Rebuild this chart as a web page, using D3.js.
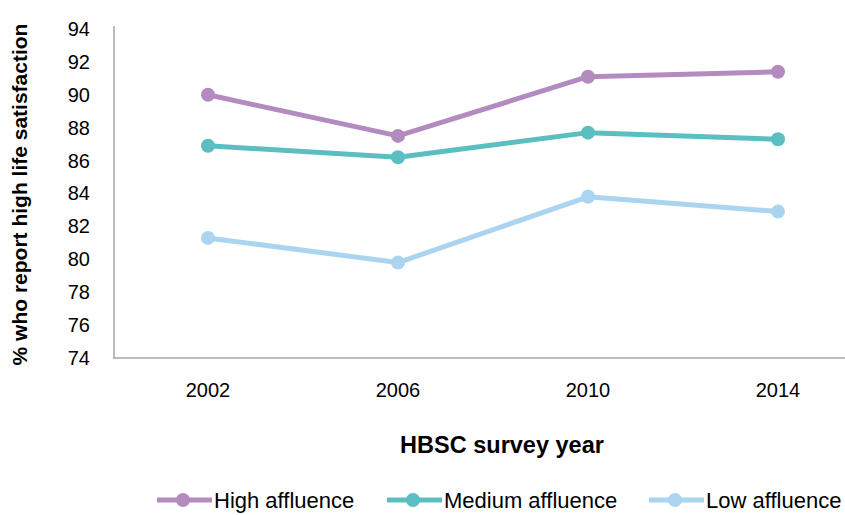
<!DOCTYPE html>
<html>
<head>
<meta charset="utf-8">
<script src="https://cdn.jsdelivr.net/npm/d3@7"></script>
<style>
	body { margin: 0; background: #fff; }
	text { font-family: "Liberation Sans", Arial, sans-serif; fill: #000; }
</style>
</head>
<body>
<svg id="chart"></svg>
<script>
// chart data
const years = ["2002", "2006", "2010", "2014"];
const highAffluence = [90.0, 87.5, 91.1, 91.4];
const mediumAffluence = [86.9, 86.2, 87.7, 87.3];
const lowAffluence = [81.3, 79.8, 83.8, 82.9];
const yTicks = [74, 76, 78, 80, 82, 84, 86, 88, 90, 92, 94];

const series = [
	{name: "High affluence", values: highAffluence, color: "#b48bbf"},
	{name: "Medium affluence", values: mediumAffluence, color: "#5bbfc1"},
	{name: "Low affluence", values: lowAffluence, color: "#aad4f0"}
];

const WIDTH = 845, HEIGHT = 515;
const MARGIN = {top: 29, left: 113, bottom: 157};

const svg = d3.select("#chart").attr("width", WIDTH).attr("height", HEIGHT);

const xScale = d3.scaleBand().domain(years).range([MARGIN.left, MARGIN.left + 760]);
const yScale = d3.scaleLinear().domain([74, 94]).range([HEIGHT - MARGIN.bottom, MARGIN.top]);

// Axis lines (no ticks)
svg.append("line")
	.attr("x1", MARGIN.left + 1).attr("x2", MARGIN.left + 1)
	.attr("y1", yScale(94) - 3).attr("y2", yScale(74))
	.attr("stroke", "#a6a6a6").attr("stroke-width", 1.5);
svg.append("line")
	.attr("x1", MARGIN.left).attr("x2", WIDTH)
	.attr("y1", yScale(74)).attr("y2", yScale(74))
	.attr("stroke", "#a6a6a6").attr("stroke-width", 1.5);

// Y tick labels
const yAxis = svg.append("g")
	.attr("transform", `translate(${MARGIN.left}, 0)`)
	.call(d3.axisLeft(yScale).tickValues(yTicks).tickSize(0).tickPadding(23));
yAxis.select(".domain").remove();
yAxis.selectAll("text")
	.style("font-size", "20px")
	.attr("fill", "#000");

// X tick labels
const xAxis = svg.append("g")
	.attr("transform", `translate(0, ${yScale(74)})`)
	.call(d3.axisBottom(xScale).tickSize(0).tickPadding(25));
xAxis.select(".domain").remove();
xAxis.selectAll("text")
	.style("font-size", "20px")
	.attr("fill", "#000");

// Axis titles
svg.append("text")
	.attr("transform", `translate(27, ${(yScale(94) + yScale(74)) / 2 + 1}) rotate(-90)`)
	.attr("text-anchor", "middle")
	.style("font-size", "21px")
	.style("font-weight", "bold")
	.text("% who report high life satisfaction");

svg.append("text")
	.attr("x", 502)
	.attr("y", 453)
	.attr("text-anchor", "middle")
	.style("font-size", "23.5px")
	.style("font-weight", "bold")
	.text("HBSC survey year");

// Lines and points
const line = d3.line()
	.x((d, i) => xScale(years[i]) + xScale.bandwidth() / 2)
	.y(d => yScale(d));

series.forEach(s => {
	svg.append("path")
		.datum(s.values)
		.attr("fill", "none")
		.attr("stroke", s.color)
		.attr("stroke-width", 5)
		.attr("stroke-linejoin", "round")
		.attr("d", line);

	svg.selectAll(null)
		.data(s.values)
		.enter()
		.append("circle")
		.attr("cx", (d, i) => xScale(years[i]) + xScale.bandwidth() / 2)
		.attr("cy", d => yScale(d))
		.attr("r", 7)
		.attr("fill", s.color);
});

// Legend
const legendX = [157, 387, 649];
const legend = svg.append("g").attr("transform", "translate(0, 500)");
series.forEach((s, i) => {
	const g = legend.append("g").attr("transform", `translate(${legendX[i]}, 0)`);
	g.append("line")
		.attr("x1", 0).attr("x2", 55)
		.attr("stroke", s.color).attr("stroke-width", 5);
	g.append("circle").attr("cx", 26).attr("r", 7).attr("fill", s.color);
	g.append("text")
		.attr("x", 57)
		.attr("dy", "0.35em")
		.style("font-size", "22px")
		.text(s.name);
});
</script>
</body>
</html>
